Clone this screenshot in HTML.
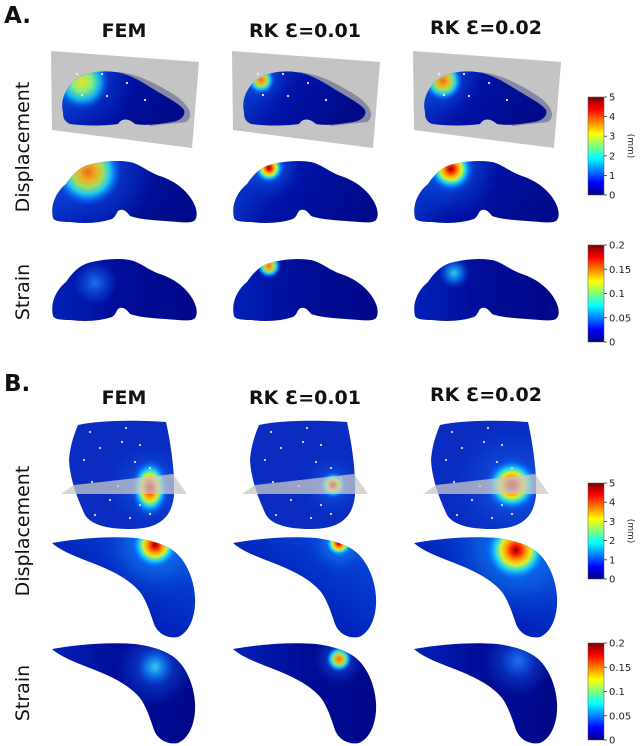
<!DOCTYPE html>
<html><head><meta charset="utf-8">
<style>
html,body{margin:0;padding:0;background:#fff;}
svg{display:block;}
.t{font-family:"DejaVu Sans","Liberation Sans",sans-serif;font-weight:bold;font-size:19px;fill:#111;text-anchor:middle;}
.pl{font-family:"DejaVu Sans","Liberation Sans",sans-serif;font-weight:bold;font-size:23px;fill:#111;}
.rl{font-family:"DejaVu Sans","Liberation Sans",sans-serif;font-size:19px;fill:#111;text-anchor:middle;}
.tk{font-family:"DejaVu Sans","Liberation Sans",sans-serif;font-size:10px;fill:#222;}
</style></head>
<body>
<svg id="fig" width="640" height="746" viewBox="0 0 640 746">
<defs>
<linearGradient id="jet" x1="0" y1="1" x2="0" y2="0">
<stop offset="0" stop-color="#00007f"/><stop offset="0.125" stop-color="#0000ff"/><stop offset="0.375" stop-color="#00ffff"/><stop offset="0.625" stop-color="#ffff00"/><stop offset="0.875" stop-color="#ff0000"/><stop offset="1" stop-color="#7f0000"/>
</linearGradient>
<linearGradient id="baseA" x1="0" y1="0" x2="1" y2="0.3">
<stop offset="0" stop-color="#0848d8"/><stop offset="0.45" stop-color="#0014a8"/><stop offset="1" stop-color="#000a8a"/>
</linearGradient>
<linearGradient id="baseS" x1="0" y1="0" x2="1" y2="0">
<stop offset="0" stop-color="#0020b8"/><stop offset="0.5" stop-color="#000c96"/><stop offset="1" stop-color="#000888"/>
</linearGradient>
<linearGradient id="baseB" x1="1" y1="0" x2="0" y2="1">
<stop offset="0" stop-color="#0a50e0"/><stop offset="0.6" stop-color="#0020b8"/><stop offset="1" stop-color="#000c90"/>
</linearGradient>
<radialGradient id="hot">
<stop offset="0" stop-color="#8b0000"/><stop offset="0.15" stop-color="#ff2000"/><stop offset="0.3" stop-color="#ffa000"/><stop offset="0.45" stop-color="#d8f030"/><stop offset="0.6" stop-color="#20d8f0"/><stop offset="0.8" stop-color="#0070ff" stop-opacity="0.6"/><stop offset="1" stop-color="#0040e0" stop-opacity="0"/>
</radialGradient>
<radialGradient id="warm">
<stop offset="0" stop-color="#e07020"/><stop offset="0.25" stop-color="#f0b020"/><stop offset="0.45" stop-color="#a0e060"/><stop offset="0.65" stop-color="#20c8f0"/><stop offset="0.85" stop-color="#0070ff" stop-opacity="0.6"/><stop offset="1" stop-color="#0040e0" stop-opacity="0"/>
</radialGradient>
<radialGradient id="yel">
<stop offset="0" stop-color="#f0e020"/><stop offset="0.35" stop-color="#80f080"/><stop offset="0.65" stop-color="#10b0f0"/><stop offset="1" stop-color="#0040e0" stop-opacity="0"/>
</radialGradient>
<radialGradient id="cyan">
<stop offset="0" stop-color="#30d0f0"/><stop offset="0.5" stop-color="#1080f0" stop-opacity="0.7"/><stop offset="1" stop-color="#0040e0" stop-opacity="0"/>
</radialGradient>
<radialGradient id="faint">
<stop offset="0" stop-color="#2070f0"/><stop offset="0.6" stop-color="#1050e0" stop-opacity="0.5"/><stop offset="1" stop-color="#0040e0" stop-opacity="0"/>
</radialGradient>
<path id="lobe" d="M53,218 C50,205 56,192 66,184 C74,172 82,166 92,164 C105,161 118,160 130,162 C140,164 148,172 160,176 C175,181 186,190 192,200 C197,208 198,216 195,220 C192,224 180,222 165,221 C150,220 138,219 130,216 C127,212 124,209 120,210 C116,211 117,216 112,219 C100,223 85,224 70,222 C60,222 54,221 53,218 Z"/>
<path id="liver" d="M63,112 C60,100 66,88 75,80 C85,73 100,70 115,72 C130,74 142,82 155,90 C168,98 180,104 184,110 C186,116 180,121 172,122 C160,124 145,126 135,124 C128,118 122,118 118,124 C105,126 85,126 70,124 C64,121 63,118 63,112 Z"/>
<path id="boom" d="M52,543 C80,538 110,536 135,538 C150,540 165,544 175,552 C187,562 194,580 195,597 C196,615 190,632 178,637 C168,639 158,634 154,624 C150,612 146,600 140,592 C130,580 115,572 95,564 C80,558 62,552 52,543 Z"/>
<path id="blob" d="M78,425 C100,420 140,420 166,422 C170,440 175,470 174,495 C172,515 162,529 130,529 C110,529 92,526 85,515 C78,500 70,480 69,460 C70,445 75,432 78,425 Z"/>
<clipPath id="cLobe"><use href="#lobe"/></clipPath>
<clipPath id="cLiver"><use href="#liver"/></clipPath>
<clipPath id="cBoom"><use href="#boom"/></clipPath>
<clipPath id="cBlob"><use href="#blob"/></clipPath>
</defs>

<text class="pl" x="4" y="23">A.</text>
<text class="t" x="124" y="37">FEM</text>
<text class="t" x="305" y="37">RK Ɛ=0.01</text>
<text class="t" x="486" y="34">RK Ɛ=0.02</text>
<text class="rl" transform="translate(29,147) rotate(-90)">Displacement</text>
<text class="rl" transform="translate(29,292) rotate(-90)">Strain</text>

<g id="colsA"></g>

<text class="pl" x="4" y="391">B.</text>
<text class="t" x="124" y="404">FEM</text>
<text class="t" x="305" y="404">RK Ɛ=0.01</text>
<text class="t" x="486" y="401">RK Ɛ=0.02</text>
<text class="rl" transform="translate(29,531) rotate(-90)">Displacement</text>
<text class="rl" transform="translate(29,693) rotate(-90)">Strain</text>

<g id="colsB"></g>
<g id="cbars"></g>
</svg>

<script>
// Colorbar tick data
const dispTicks = [0, 1, 2, 3, 4, 5];
const dispMax = 5;
const strainTicks = [0, 0.05, 0.1, 0.15, 0.2];
const strainLabels = ["0", "0.05", "0.1", "0.15", "0.2"];
const strainMax = 0.2;
// Peak field magnitudes per method: FEM, RK 0.01, RK 0.02
const methods = ["FEM", "RK 0.01", "RK 0.02"];
const peakDispA = [3.6, 5.0, 5.0];
const peakStrainA = [0.05, 0.13, 0.08];
const peakDispB = [5.0, 5.0, 5.0];
const peakStrainB = [0.08, 0.13, 0.06];

const NS = "http://www.w3.org/2000/svg";
function mk(tag, attrs, parent){
  const e = document.createElementNS(NS, tag);
  for (const k in attrs) e.setAttribute(k, attrs[k]);
  parent.appendChild(e);
  return e;
}
function fillFor(v, max){
  const r = v / max;
  if (r > 0.85) return "url(#hot)";
  if (r > 0.6) return "url(#warm)";
  if (r > 0.5) return "url(#yel)";
  if (r > 0.3) return "url(#cyan)";
  return "url(#faint)";
}
const colDx = [0, 181, 362];

const cb = document.getElementById("cbars");
function colorbar(x, yTop, yBot, ticks, labels, max, name, unit){
  const g = mk("g", {}, cb);
  
  
  mk("rect", {x:x, y:yTop, width:16, height:yBot-yTop, fill:"url(#jet)", stroke:"#555", "stroke-width":0.5}, g);
  const sy = v => yBot - (v / max) * (yBot - yTop);
  ticks.forEach((t, i) => {
    const y = sy(t);
    mk("line", {x1:x+16, x2:x+19, y1:y, y2:y, stroke:"#333", "stroke-width":0.8}, g);
    const tx = mk("text", {x:x+21, y:y+3.5, class:"tk"}, g);
    tx.textContent = labels[i];
    
    
  });
  if (unit){
    const u = mk("text", {class:"tk", transform:"translate(628," + ((yTop+yBot)/2) + ") rotate(90)", "text-anchor":"middle", style:"font-size:9px"}, g);
    u.textContent = "(mm)";
    
    
  }
}
colorbar(588, 97, 195, dispTicks, dispTicks.map(String), dispMax, "colorbar-a-displacement", true);
colorbar(588, 245, 342, strainTicks, strainLabels, strainMax, "colorbar-a-strain", false);
colorbar(588, 483, 579, dispTicks, dispTicks.map(String), dispMax, "colorbar-b-displacement", true);
colorbar(588, 643, 740, strainTicks, strainLabels, strainMax, "colorbar-b-strain", false);

const gA = document.getElementById("colsA");
const hotA = [[88,172,34],[88,168,16],[89,169,24]];
const hotAstr = [[95,185,22],[88,168,12],[92,175,16]];
const hotLiver = [[82,82,28],[80,80,14],[81,81,20]];
const dotsA = [[77,74],[102,74],[127,83],[82,95],[107,96],[145,100]];
methods.forEach((m, i) => {
  const g = mk("g", {transform:"translate(" + colDx[i] + ",0)"}, gA);
  
  
  const pl = mk("polygon", {points:"51,51 199,62 192,148 52,130", fill:"#c4c4c4"}, g);
  
  
  mk("path", {d:"M118,72 C140,74 160,86 176,96 C190,106 194,116 186,122 L150,126 Z", fill:"#7b7f9e", opacity:0.85}, g);
  const lv = mk("use", {href:"#liver", fill:"url(#baseA)"}, g);
  
  
  const lg = mk("g", {"clip-path":"url(#cLiver)"}, g);
  const h = hotLiver[i];
  mk("circle", {cx:h[0], cy:h[1], r:h[2]*1.8, fill:"url(#faint)", opacity:0.6}, lg);
  mk("circle", {cx:h[0], cy:h[1], r:h[2], fill:fillFor(peakDispA[i]*0.8, dispMax)}, lg);
  dotsA.forEach(d => mk("circle", {cx:d[0], cy:d[1], r:1.1, fill:"#eee"}, g));
  const d1 = mk("use", {href:"#lobe", fill:"url(#baseA)"}, g);
  
  
  const c1 = mk("g", {"clip-path":"url(#cLobe)"}, g);
  mk("circle", {cx:hotA[i][0], cy:hotA[i][1], r:hotA[i][2]*2, fill:"url(#faint)", opacity:0.7}, c1);
  mk("circle", {cx:hotA[i][0], cy:hotA[i][1], r:hotA[i][2], fill:fillFor(peakDispA[i], dispMax)}, c1);
  const g3 = mk("g", {transform:"translate(0,98)"}, g);
  const s1 = mk("use", {href:"#lobe", fill:"url(#baseS)"}, g3);
  
  
  const c3 = mk("g", {"clip-path":"url(#cLobe)"}, g3);
  mk("circle", {cx:hotAstr[i][0], cy:hotAstr[i][1], r:hotAstr[i][2], fill:fillFor(peakStrainA[i], strainMax)}, c3);
});

const gB = document.getElementById("colsB");
const hotBlob = [[150,487,20],[152,485,14],[150,485,28]];
const hotBoom = [[155,545,26],[158,543,15],[154,550,34]];
const hotBstr = [[155,561,20],[158,553,13],[156,555,18]];
const dotsB = [[90,432],[126,428],[100,448],[122,442],[140,445],[84,460],[135,462],[150,468],[92,482],[118,486],[160,478],[110,500],[140,505],[95,515],[130,518],[150,514]];
methods.forEach((m, i) => {
  const g = mk("g", {transform:"translate(" + colDx[i] + ",0)"}, gB);
  
  
  const b = mk("use", {href:"#blob", fill:"#0a2cc0"}, g);
  
  
  const cb1 = mk("g", {"clip-path":"url(#cBlob)"}, g);
  const h = hotBlob[i];
  mk("circle", {cx:h[0], cy:h[1], r:h[2]*2.2, fill:"url(#faint)", opacity:0.8}, cb1);
  if (i === 0){
    mk("ellipse", {cx:150, cy:488, rx:20, ry:30, fill:"url(#hot)"}, cb1);
  } else {
    mk("circle", {cx:h[0], cy:h[1], r:h[2], fill:fillFor(peakDispB[i], dispMax)}, cb1);
  }
  dotsB.forEach(d => mk("circle", {cx:d[0], cy:d[1], r:1.1, fill:"#ddd"}, g));
  const band = mk("polygon", {points:"61,494 187,494 173,474 74,485", fill:"#c8c8c8", opacity:0.75}, g);
  
  
  const d1 = mk("use", {href:"#boom", fill:"url(#baseB)"}, g);
  
  
  const c1 = mk("g", {"clip-path":"url(#cBoom)"}, g);
  mk("circle", {cx:hotBoom[i][0], cy:hotBoom[i][1], r:hotBoom[i][2]*2.2, fill:"url(#cyan)", opacity:0.6}, c1);
  mk("circle", {cx:hotBoom[i][0], cy:hotBoom[i][1], r:hotBoom[i][2], fill:fillFor(peakDispB[i], dispMax)}, c1);
  const g3 = mk("g", {transform:"translate(0,106)"}, g);
  const s1 = mk("use", {href:"#boom", fill:"url(#baseS)"}, g3);
  
  
  const c3 = mk("g", {"clip-path":"url(#cBoom)"}, g3);
  mk("circle", {cx:hotBstr[i][0], cy:hotBstr[i][1], r:hotBstr[i][2]*2, fill:"url(#faint)", opacity:0.7}, c3);
  mk("circle", {cx:hotBstr[i][0], cy:hotBstr[i][1], r:hotBstr[i][2], fill:fillFor(peakStrainB[i], strainMax)}, c3);
});
</script>
</body></html>
